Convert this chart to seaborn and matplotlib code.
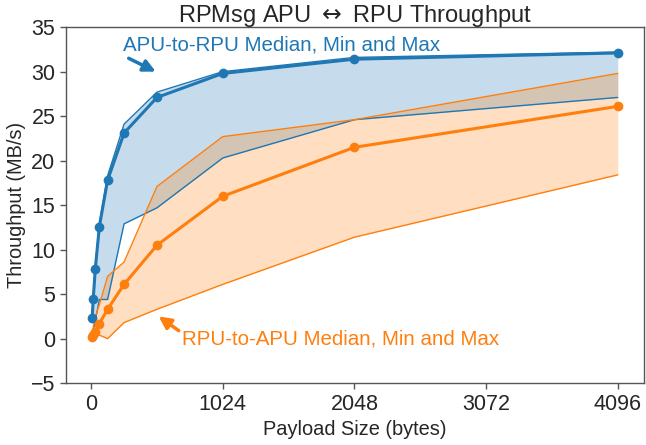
import pandas as pd
import seaborn as sns
import matplotlib
matplotlib.use("Agg")
import matplotlib.pyplot as plt

# payload sizes in bytes
sizes = [8, 16, 32, 64, 128, 256, 512, 1024, 2048, 4096]

# APU -> RPU throughput (MB/s)
apu_med = [2.3, 4.4, 7.8, 12.6, 17.8, 23.1, 27.1, 29.8, 31.4, 32.1]
apu_min = [0.4, 0.9, 2.0, 4.4, 4.4, 12.9, 14.7, 20.3, 24.6, 27.1]
apu_max = [2.5, 4.6, 8.0, 13.0, 18.3, 24.1, 27.7, 30.0, 31.6, 32.2]

# RPU -> APU throughput (MB/s)
rpu_med = [0.2, 0.4, 0.8, 1.7, 3.3, 6.1, 10.5, 16.0, 21.5, 26.1]
rpu_min = [0.1, 0.2, 0.3, 0.4, 0.0, 1.8, 3.3, 6.1, 11.4, 18.4]
rpu_max = [0.5, 1.2, 2.5, 3.8, 7.0, 8.6, 17.1, 22.7, 24.6, 29.8]

xticks = [0, 1024, 2048, 3072, 4096]

sns.set_style("white")
plt.rcParams['font.family'] = ['Liberation Sans', 'DejaVu Sans']
plt.rcParams['mathtext.fontset'] = 'dejavusans'

blue = "#1f77b4"
orange = "#ff7f0e"

df = pd.DataFrame({
    "size": sizes * 2,
    "med": apu_med + rpu_med,
    "lo": apu_min + rpu_min,
    "hi": apu_max + rpu_max,
    "dir": ["APU-to-RPU"] * len(sizes) + ["RPU-to-APU"] * len(sizes),
})
palette = {"APU-to-RPU": blue, "RPU-to-APU": orange}

fig, ax = plt.subplots(figsize=(6.46, 4.45), dpi=100)
fig.subplots_adjust(left=0.102, right=0.997, top=0.939, bottom=0.139)

for name, d in df.groupby("dir"):
    c = palette[name]
    ax.fill_between(d["size"], d["lo"], d["hi"], color=c, alpha=0.25, lw=0)

sns.lineplot(data=df, x="size", y="lo", hue="dir", palette=palette, lw=1, ax=ax, legend=False)
sns.lineplot(data=df, x="size", y="hi", hue="dir", palette=palette, lw=1, ax=ax, legend=False)
sns.lineplot(data=df, x="size", y="med", hue="dir", palette=palette, lw=2.2,
             marker="o", markersize=7, markeredgewidth=0, ax=ax, legend=False)

ax.set_ylim(-5, 35)
ax.set_xticks(xticks)
ax.tick_params(axis="both", labelsize=15.5, direction="out", length=4, width=1,
               color="#555555", left=True, bottom=True)
for s in ax.spines.values():
    s.set_color("#555555")
    s.set_linewidth(1)

ax.set_xlabel("Payload Size (bytes)", fontsize=14.4)
ax.set_ylabel("Throughput (MB/s)", fontsize=14.4)
ax.set_title(r"RPMsg APU $\leftrightarrow$ RPU Throughput", fontsize=17, pad=4)

# labels and short arrows
ax.text(245, 33.0, "APU-to-RPU Median, Min and Max", color=blue, fontsize=14.8,
        va="center", ha="left")
ax.annotate("", xy=(502, 30.0), xytext=(292, 31.5),
            arrowprops=dict(arrowstyle="-|>", color=blue, lw=2.5, mutation_scale=18,
                            shrinkA=0, shrinkB=0))
ax.text(704, 0.0, "RPU-to-APU Median, Min and Max", color=orange, fontsize=14.8,
        va="center", ha="left")
ax.annotate("", xy=(525, 2.5), xytext=(681, 0.9),
            arrowprops=dict(arrowstyle="-|>", color=orange, lw=2.5, mutation_scale=18,
                            shrinkA=0, shrinkB=0))

fig.savefig("out.png", dpi=100)
